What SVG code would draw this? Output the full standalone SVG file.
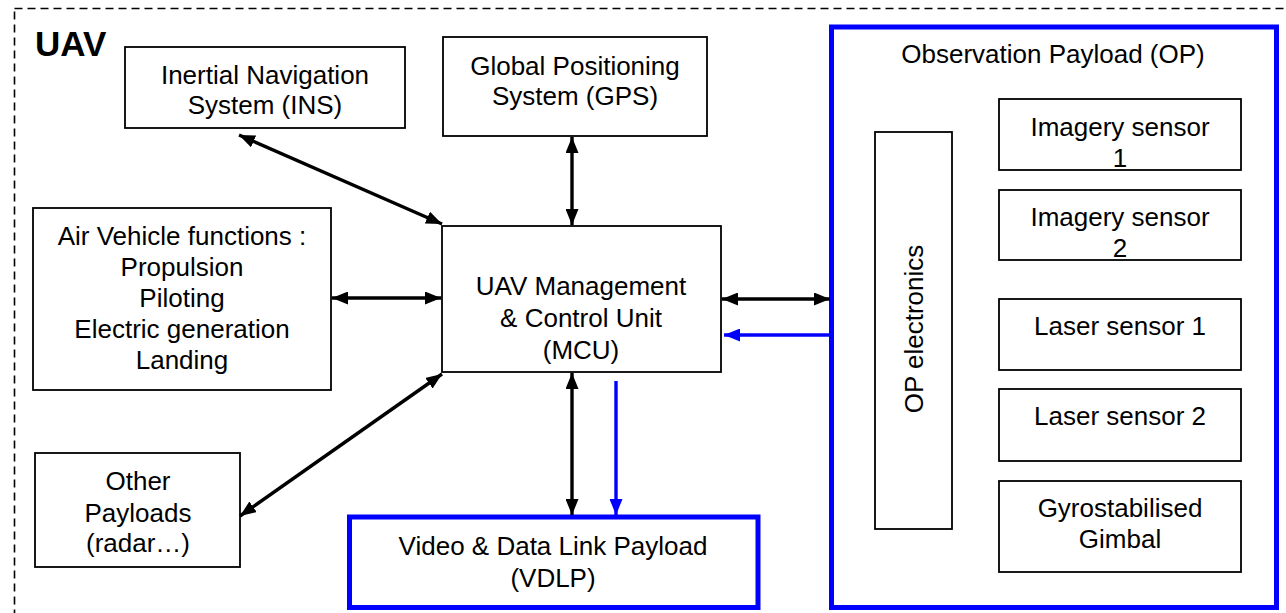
<svg xmlns="http://www.w3.org/2000/svg" width="1286" height="613" viewBox="0 0 1286 613">
<style>
  .box { fill: #fff; stroke: #000; stroke-width: 1.8; }
  .bluebox { fill: #fff; stroke: #0000ff; stroke-width: 5; }
  .t { font-family: "Liberation Sans", Arial, sans-serif; font-size: 26px; fill: #000; text-anchor: middle; }
  .title { font-family: "Liberation Sans", Arial, sans-serif; font-size: 35px; font-weight: bold; fill: #000; }
  .conn { stroke: #000; stroke-width: 3.4; fill: none; marker-start: url(#ah); marker-end: url(#ah); }
  .blue { stroke: #0000ff; stroke-width: 3.4; fill: none; marker-end: url(#ahb); }
</style>
<defs>
  <marker id="ah" viewBox="0 0 16 13" refX="16" refY="6.5" markerWidth="16" markerHeight="13" markerUnits="userSpaceOnUse" orient="auto-start-reverse">
    <path d="M0,0 L16,6.5 L0,13 z" fill="#000"/>
  </marker>
  <marker id="ahb" viewBox="0 0 16 13" refX="16" refY="6.5" markerWidth="16" markerHeight="13" markerUnits="userSpaceOnUse" orient="auto-start-reverse">
    <path d="M0,0 L16,6.5 L0,13 z" fill="#0000ff"/>
  </marker>
</defs>
<rect width="1286" height="613" fill="#fff"/>

<g id="uav-boundary">
  <rect x="14.5" y="8.5" width="1290" height="620" fill="none" stroke="#000" stroke-width="1.6" stroke-dasharray="8 5"/>
  <text class="title" x="35" y="56">UAV</text>
</g>

<g id="ins">
  <rect class="box" x="125" y="47" width="280" height="81"/>
  <text class="t" x="265" y="84">Inertial Navigation</text>
  <text class="t" x="265" y="114">System (INS)</text>
</g>

<g id="gps">
  <rect class="box" x="443" y="37" width="264" height="99"/>
  <text class="t" x="575" y="75">Global Positioning</text>
  <text class="t" x="575" y="105">System (GPS)</text>
</g>

<g id="air-vehicle">
  <rect class="box" x="33" y="208" width="298" height="182"/>
  <text class="t" x="182" y="245">Air Vehicle functions :</text>
  <text class="t" x="182" y="276">Propulsion</text>
  <text class="t" x="182" y="307">Piloting</text>
  <text class="t" x="182" y="338">Electric generation</text>
  <text class="t" x="182" y="369">Landing</text>
</g>

<g id="mcu">
  <rect class="box" x="442" y="226" width="279" height="146"/>
  <text class="t" x="581" y="295">UAV Management</text>
  <text class="t" x="581" y="327">&amp; Control Unit</text>
  <text class="t" x="581" y="359">(MCU)</text>
</g>

<g id="other-payloads">
  <rect class="box" x="35" y="453" width="205" height="114"/>
  <text class="t" x="138" y="490">Other</text>
  <text class="t" x="138" y="522">Payloads</text>
  <text class="t" x="138" y="552">(radar…)</text>
</g>

<g id="vdlp">
  <rect class="bluebox" x="349.5" y="517" width="408.5" height="90.5"/>
  <text class="t" x="553" y="555">Video &amp; Data Link Payload</text>
  <text class="t" x="553" y="587">(VDLP)</text>
</g>

<g id="observation-payload">
  <rect class="bluebox" x="831.5" y="27" width="445" height="580.5"/>
  <text class="t" x="1053" y="63">Observation Payload (OP)</text>
</g>

<g id="op-electronics">
  <rect class="box" x="875" y="132" width="77" height="397"/>
  <text class="t" transform="translate(923,329) rotate(-90)" x="0" y="0">OP electronics</text>
</g>

<g id="imagery-sensor-1">
  <rect class="box" x="999" y="99" width="242" height="71"/>
  <text class="t" x="1120" y="136">Imagery sensor</text>
  <text class="t" x="1120" y="167">1</text>
</g>

<g id="imagery-sensor-2">
  <rect class="box" x="999" y="190" width="242" height="70"/>
  <text class="t" x="1120" y="226">Imagery sensor</text>
  <text class="t" x="1120" y="257">2</text>
</g>

<g id="laser-sensor-1">
  <rect class="box" x="999" y="299" width="242" height="71"/>
  <text class="t" x="1120" y="335">Laser sensor 1</text>
</g>

<g id="laser-sensor-2">
  <rect class="box" x="999" y="389" width="242" height="72"/>
  <text class="t" x="1120" y="425">Laser sensor 2</text>
</g>

<g id="gimbal">
  <rect class="box" x="999" y="481" width="242" height="91"/>
  <text class="t" x="1120" y="517">Gyrostabilised</text>
  <text class="t" x="1120" y="548">Gimbal</text>
</g>

<g id="connectors">
  <line class="conn" x1="239" y1="135" x2="442" y2="224"/>
  <line class="conn" x1="572" y1="137" x2="572" y2="225"/>
  <line class="conn" x1="332" y1="298" x2="441" y2="298"/>
  <line class="conn" x1="240" y1="516" x2="442" y2="374"/>
  <line class="conn" x1="572" y1="373" x2="572" y2="515"/>
  <line class="conn" x1="722" y1="299" x2="830" y2="299"/>
  <line class="blue" x1="830" y1="335" x2="724" y2="335"/>
  <line class="blue" x1="616" y1="381" x2="616" y2="515"/>
</g>
</svg>
